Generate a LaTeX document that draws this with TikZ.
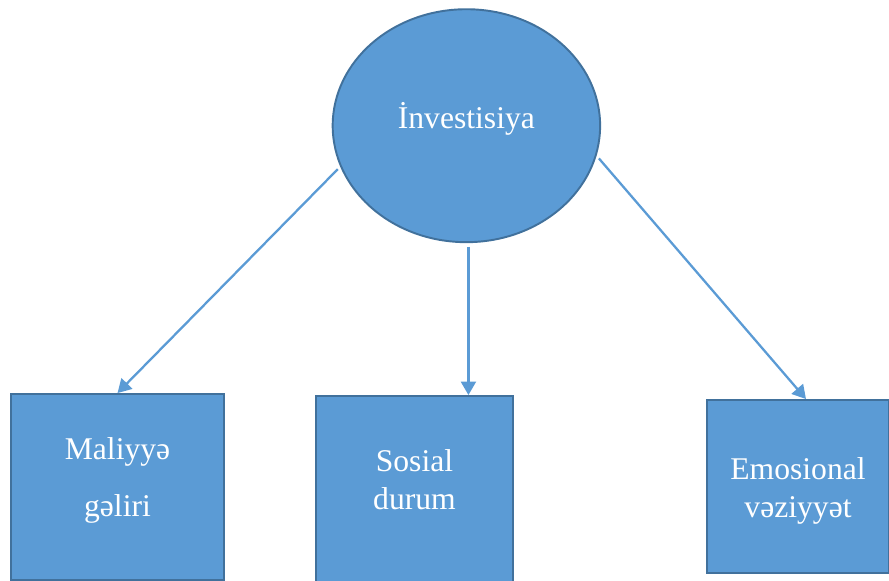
\documentclass[tikz,border=0pt]{standalone}
\usepackage{fontspec}
\setmainfont{Liberation Serif}
\usepackage{tikz}
\usetikzlibrary{
  shapes.geometric,
  arrows.meta}
\definecolor{boxblue}{HTML}{5B9BD5}
\definecolor{edgeblue}{HTML}{41719C}

\begin{document}
\begin{tikzpicture}[x=0.02cm,y=-0.02cm]
\tikzset{
  every node/.style={text=white, font=\fontsize{18}{22}\selectfont},
  blob/.style={ellipse, draw=edgeblue, fill=boxblue, line width=1.1pt, inner sep=0pt, minimum width=5.35cm, minimum height=4.66cm},
  tile/.style={rectangle, draw=edgeblue, fill=boxblue, line width=1.1pt, inner sep=0pt},
  link/.style={draw=boxblue, line width=1.3pt, shorten <=2pt, -{Triangle[length=0.27cm,width=0.3cm]}},
}
\useasboundingbox (0,0) rectangle (889,581);
\node[blob] (inv) at (466.4,125.7) {\raisebox{-0.05cm}[0pt][0pt]{İnvestisiya}};
\node[tile, minimum width=4.26cm, minimum height=3.72cm] (mal) at (117.5,487)
  {\raisebox{-0.02cm}[0pt][0pt]{\begin{tabular}{@{}c@{}}Maliyyə\\[0.38cm]gəliri\end{tabular}}};
\node[tile, minimum width=3.94cm, minimum height=3.84cm] (soc) at (414.5,492)
  {\raisebox{0.03cm}[0pt][0pt]{\begin{tabular}{@{}c@{}}Sosial\\durum\end{tabular}}};
\node[tile, minimum width=3.64cm, minimum height=3.46cm] (emo) at (798,486.5)
  {\raisebox{-0.24cm}[0pt][0pt]{\begin{tabular}{@{}c@{}}Emosional\\vəziyyət\end{tabular}}};
\draw[link] (inv.198.4) -- (mal.north);
\draw[link] (inv.271.2) -- (inv.271.2 |- soc.north);
\draw[link] (inv.347.2) -- ([xshift=0.16cm]emo.north);
\end{tikzpicture}
\end{document}
